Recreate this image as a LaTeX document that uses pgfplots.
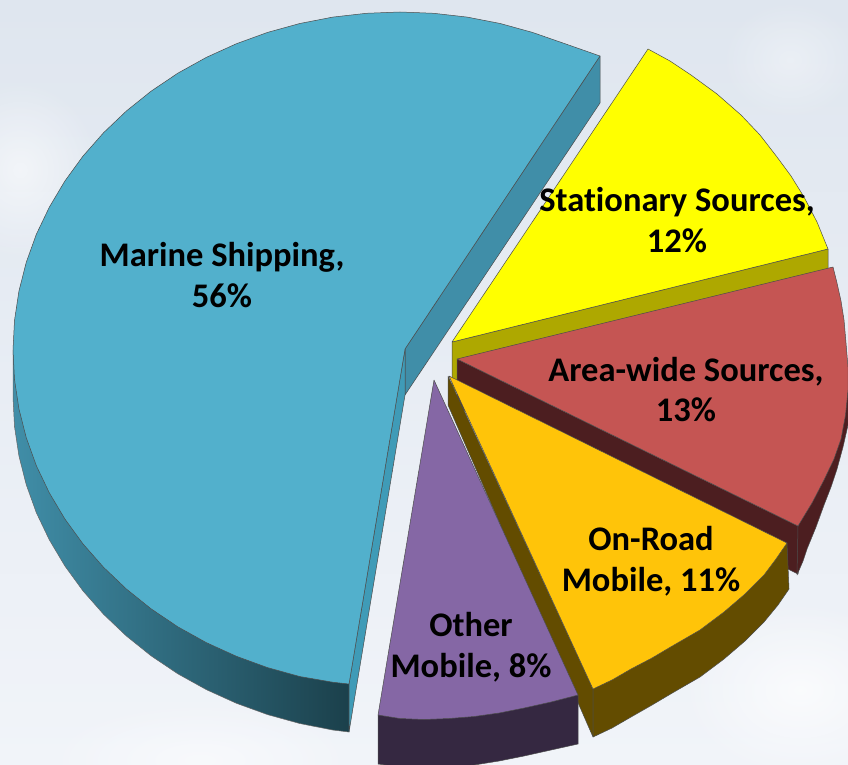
\documentclass[border=0pt]{standalone}
\usepackage{pgfplots}
\pgfplotsset{compat=1.18}
\usepackage{fontspec}
\setmainfont[Ligatures=NoCommon]{Carlito}
\usetikzlibrary{fadings}
\tikzfading[name=softpatch,inner color=transparent!0,outer color=transparent!100]
\definecolor{marineTop}{HTML}{52B0CC}
\definecolor{marineCut}{HTML}{3F9BB7}
\definecolor{marineBack}{HTML}{408EA8}
\definecolor{marineRimMid}{HTML}{2A6172}
\definecolor{marineRimEnd}{HTML}{1B404B}
\definecolor{statTop}{HTML}{FFFF00}
\definecolor{statSide}{HTML}{AEA800}
\definecolor{areaTop}{HTML}{C55553}
\definecolor{areaSide}{HTML}{4C1E20}
\definecolor{roadTop}{HTML}{FFC409}
\definecolor{roadSide}{HTML}{634C00}
\definecolor{otherTop}{HTML}{8567A5}
\definecolor{otherSide}{HTML}{352841}
\definecolor{skyTop}{HTML}{DFE6EF}
\definecolor{skyBottom}{HTML}{F1F4F9}
\tikzset{face/.style={draw=black!70,line width=0.5pt,line join=round}}
\begin{document}
\begin{tikzpicture}
\begin{axis}[
  width=848pt,height=765pt,scale only axis,
  xmin=0,xmax=848,ymin=0,ymax=765,y dir=reverse,
  hide axis,clip=true,
  every axis plot/.append style={mark=none},
]
% sky backdrop
\addplot[draw=none,top color=skyTop,bottom color=skyBottom] coordinates {(0,0)(848,0)(848,765)(0,765)};
\fill[white,opacity=0.55,path fading=softpatch] (axis cs:20,170) ellipse [x radius=80,y radius=90];
\fill[white,opacity=0.35,path fading=softpatch] (axis cs:790,60) ellipse [x radius=70,y radius=60];
\fill[white,opacity=0.7,path fading=softpatch] (axis cs:800,690) ellipse [x radius=120,y radius=90];
\fill[white,opacity=0.5,path fading=softpatch] (axis cs:200,760) ellipse [x radius=160,y radius=60];

% Marine Shipping: back and cut walls, rim, top
\addplot[face,fill=marineBack] coordinates {(405,349)(600,56)(600,103)(405,395)(405,349)};
\addplot[draw=black!60,line width=0.5pt,line join=round,left color=marineBack,middle color=marineRimMid,right color=marineRimEnd] coordinates
 {(349,684)(349,732)(332.8,730)(299.8,723.5)(267.6,714.6)(236.5,703.3)(206.5,689.7)(178,673.9)(151.2,655.9)(126.4,636)(103.6,614.3)(83,590.9)(64.9,566)(49.3,539.8)(36.3,512.6)(26.2,484.5)(18.9,455.7)(14.5,426.5)(13,397)(13,350)(349,684)};
\addplot[face,fill=marineCut] coordinates {(405,349)(349,684)(349,732)(405,395)(405,349)};
\addplot[face,fill=marineTop] coordinates
 {(405,349)(600,56)(563.5,43.2)(532.4,32.4)(500.2,23.5)(467.2,17.1)(433.7,13.3)(400,12)(366.3,13.3)(332.8,17.1)(299.8,23.5)(267.6,32.4)(236.5,43.7)(206.5,57.3)(178,73.1)(151.2,91.1)(126.4,111)(103.6,132.7)(83,156.1)(64.9,181)(49.3,207.2)(36.3,234.4)(26.2,262.5)(18.9,291.3)(14.5,320.5)(13,350)(14.5,379.5)(18.9,408.7)(26.2,437.5)(36.3,465.6)(49.3,492.8)(64.9,519)(83,543.9)(103.6,567.3)(126.4,589)(151.2,608.9)(178,626.9)(206.5,642.7)(236.5,656.3)(267.6,667.6)(299.8,676.5)(332.8,682.2)(349,684)(405,349)};

% Stationary Sources
\addplot[face,fill=statSide] coordinates {(452,342)(828,249)(828,270)(452,392)(452,342)};
\addplot[face,fill=statTop] coordinates
 {(452,342)(648,49)(670,61)(691,75)(717,94)(741,115)(760,135)(777,157)(791,176)(804,197)(817,222)(828,249)(452,342)};

% Area-wide Sources
\addplot[face,fill=areaSide] coordinates {(457,359)(798,526)(798,574)(457,407)(457,359)};
\addplot[face,fill=areaSide] coordinates {(798,526)(797,575)(803,561)(807,549)(816,527)(824,505)(831,487)(837,469)(843,447)(848,425)(848,380)(798,526)};
\addplot[face,fill=areaTop] coordinates
 {(457,359)(833,267)(837,283)(841,301)(844,320)(846,343)(848,367)(848,390)(845.5,415)(841,439)(834,459)(824,480)(812,503)(798,526)(457,359)};

% On-Road Mobile
\addplot[face,fill=roadSide] coordinates {(448,376)(593,689)(593,737)(448,405)(448,376)};
\addplot[face,fill=roadSide] coordinates {(593,689)(593,737)(612,728)(631,717)(652,705)(674,692)(700,677)(724,659)(745,641)(764,622)(778,605)(789,589)(787,543)(593,689)};
\addplot[face,fill=roadTop] coordinates
 {(449,376)(787,543)(776,559)(764,575)(745,594)(724,612)(700,630)(674,645)(652,658)(631,669)(612,680)(593,689)(449,376)};

% Other Mobile
\addplot[face,fill=otherSide] coordinates {(378,715)(378,764)(400,767)(424,768)(449,767)(474,765)(499,761)(524,756)(551,750)(578,744)(578,695)(378,715)};
\addplot[face,fill=otherTop] coordinates
 {(434,380)(578,695)(551,702)(524,708)(499,713)(474,716.5)(449,718.5)(424,719.5)(400,718.5)(378,715)(434,380)};

% Category labels
\tikzset{lab/.style={font=\fontsize{34.5}{40.5}\selectfont\bfseries,align=center,text=black,inner sep=0pt}}
\node[lab] at (axis cs:222,275) {Marine Shipping,\\56\%};
\node[lab] at (axis cs:677,220) {Stationary Sources,\\12\%};
\node[lab] at (axis cs:686,389.5) {Area-wide Sources,\\13\%};
\node[lab] at (axis cs:651,561) {On-Road\\Mobile, 11\%};
\node[lab] at (axis cs:471,647) {Other\\Mobile, 8\%};
\end{axis}
\end{tikzpicture}
\end{document}
